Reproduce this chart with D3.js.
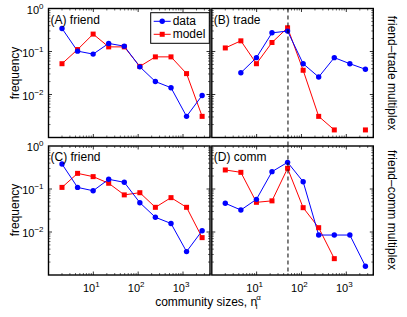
<!DOCTYPE html>
<html>
<head>
<meta charset="utf-8">
<script src="https://cdn.jsdelivr.net/npm/d3@7"></script>
<style>
body { margin: 0; background: #fff; }
svg { display: block; font-family: "Liberation Sans", Arial, sans-serif; }
</style>
</head>
<body>
<svg id="chart" width="407" height="317"></svg>
<script>
// community size bins (x), shared by every panel
var sizes = [2, 4.45, 9.9, 22, 49, 109, 242, 540, 1200, 2670];

// (A) friend, friend-trade multiplex
var friendA_data  = [0.344, 0.102, 0.087, 0.154, 0.133, 0.044, 0.020, 0.0144, 0.0031, 0.0095];
var friendA_model = [0.052, 0.111, 0.254, 0.128, 0.128, 0.045, 0.075, 0.075, 0.0306, 0.0031];
// (B) trade
var tradeB_data  = [null, 0.032, 0.072, 0.272, 0.298, 0.052, 0.0255, 0.072, 0.052, 0.0386];
var tradeB_model = [0.121, 0.177, 0.052, 0.162, 0.356, 0.0366, 0.0031, 0.0015, null, 0.0015];
// (C) friend, friend-comm multiplex
var friendC_data  = [0.381, 0.109, 0.091, 0.168, 0.143, 0.048, 0.022, 0.0158, 0.0035, 0.0107];
var friendC_model = [0.109, 0.231, 0.194, 0.136, 0.073, 0.082, 0.0375, 0.063, 0.0375, 0.0074];
// (D) comm
var commD_data  = [0.0465, 0.0325, 0.0575, 0.253, 0.417, 0.148, 0.0085, 0.0085, 0.0085, 0.0016];
var commD_model = [0.277, 0.244, 0.049, 0.053, 0.303, 0.0368, 0.0126, 0.0024, null, null];

var xTicks = [10, 100, 1000];
var yTicks = [1, 0.1, 0.01];
var peakSize = 50;  // dashed marker

var svg = d3.select("#chart");

var panels = [
    {label: "(A) friend", data: friendA_data, model: friendA_model, x0: 48.5, y0: 8.5, yLabels: true, xLabels: false, legend: true},
    {label: "(B) trade", data: tradeB_data, model: tradeB_model, x0: 211.8, y0: 8.5, yLabels: false, xLabels: false},
    {label: "(C) friend", data: friendC_data, model: friendC_model, x0: 48.5, y0: 146, yLabels: true, xLabels: true},
    {label: "(D) comm", data: commD_data, model: commD_model, x0: 211.8, y0: 146, yLabels: false, xLabels: true}
];
var pw = 161.5, ph = 129;

function tenTo(sel, exp) {
    sel.append("tspan").text("10");
    sel.append("tspan").attr("dy", -5).attr("font-size", 8).text(exp);
}

function tick(g, x1, y1, x2, y2, w) {
    return g.append("line").attr("x1", x1).attr("y1", y1).attr("x2", x2).attr("y2", y2)
        .attr("stroke", "#000").attr("stroke-width", w);
}

panels.forEach(function (p) {
    var x = d3.scaleLog().domain([1, 4000]).range([p.x0, p.x0 + pw]);
    var y = d3.scaleLog().domain([1e-3, 1]).range([p.y0 + ph, p.y0]);
    var g = svg.append("g");
    var bot = p.y0 + ph, right = p.x0 + pw;

    // minor ticks
    x.ticks().forEach(function (t) {
        var lg = Math.log10(t);
        if (Math.abs(lg - Math.round(lg)) < 1e-9) return;
        tick(g, x(t), bot, x(t), bot - 2, 0.6);
        tick(g, x(t), p.y0, x(t), p.y0 + 2, 0.6);
    });
    y.ticks().forEach(function (t) {
        var lg = Math.log10(t);
        if (Math.abs(lg - Math.round(lg)) < 1e-9) return;
        tick(g, p.x0, y(t), p.x0 + 2, y(t), 0.6);
        tick(g, right, y(t), right - 2, y(t), 0.6);
    });

    // major ticks inward on all sides
    xTicks.forEach(function (t) {
        tick(g, x(t), bot, x(t), bot - 3.5, 0.8);
        tick(g, x(t), p.y0, x(t), p.y0 + 3.5, 0.8);
        if (p.xLabels) {
            var tx = g.append("text").attr("x", x(t) - 2).attr("y", bot + 17)
                .attr("text-anchor", "middle").attr("font-size", 11);
            tenTo(tx, String(Math.round(Math.log10(t))));
        }
    });
    yTicks.forEach(function (t) {
        if (t < 1) {
            tick(g, p.x0, y(t), p.x0 + 3.5, y(t), 0.8);
            tick(g, right, y(t), right - 3.5, y(t), 0.8);
        }
        if (p.yLabels) {
            var e = Math.round(Math.log10(t));
            var ty = g.append("text").attr("x", p.x0 - 5).attr("y", y(t) + 5)
                .attr("text-anchor", "end").attr("font-size", 11);
            tenTo(ty, e == 0 ? "0" : "\u2212" + (-e));
        }
    });

    var line = d3.line()
        .defined(function (d) { return d[1] != null; })
        .x(function (d) { return x(d[0]); })
        .y(function (d) { return y(d[1]); });

    var dataPts = sizes.map(function (s, i) { return [s, p.data[i]]; });
    var modelPts = sizes.map(function (s, i) { return [s, p.model[i]]; });

    g.append("path").datum(modelPts).attr("d", line).attr("fill", "none")
        .attr("stroke", "#ff0000").attr("stroke-width", 1);
    g.append("path").datum(dataPts).attr("d", line).attr("fill", "none")
        .attr("stroke", "#0000ff").attr("stroke-width", 1);

    g.selectAll(".sq").data(modelPts.filter(function (d) { return d[1] != null; }))
        .enter().append("rect")
        .attr("x", function (d) { return x(d[0]) - 2.5; })
        .attr("y", function (d) { return y(d[1]) - 2.5; })
        .attr("width", 5).attr("height", 5).attr("fill", "#ff0000");
    g.selectAll(".dot").data(dataPts.filter(function (d) { return d[1] != null; }))
        .enter().append("circle")
        .attr("cx", function (d) { return x(d[0]); })
        .attr("cy", function (d) { return y(d[1]); })
        .attr("r", 2.7).attr("fill", "#0000ff");

    g.append("rect").attr("x", p.x0).attr("y", p.y0).attr("width", pw).attr("height", ph)
        .attr("fill", "none").attr("stroke", "#000").attr("stroke-width", 1.4);

    g.append("text").attr("x", p.x0 + 2).attr("y", p.y0 + 15).attr("font-size", 12).text(p.label);

    if (p.legend) {
        var lx = 150.7, ly = 12.7;
        g.append("rect").attr("x", lx).attr("y", ly).attr("width", 58.6).attr("height", 30.6)
            .attr("fill", "#fff").attr("stroke", "#000").attr("stroke-width", 1);
        [["data", "#0000ff", "circle"], ["model", "#ff0000", "square"]].forEach(function (e, i) {
            var yy = ly + 8.6 + i * 13;
            tick(g, lx + 3, yy, lx + 20, yy, 1).attr("stroke", e[1]);
            if (e[2] == "circle") {
                g.append("circle").attr("cx", lx + 11.5).attr("cy", yy).attr("r", 2.7).attr("fill", e[1]);
            } else {
                g.append("rect").attr("x", lx + 9).attr("y", yy - 2.5).attr("width", 5).attr("height", 5).attr("fill", e[1]);
            }
            g.append("text").attr("x", lx + 22).attr("y", yy + 4).attr("font-size", 12).text(e[0]);
        });
    }
});

// dashed marker through the right column
var xr = d3.scaleLog().domain([1, 4000]).range([211.8, 211.8 + pw]);
svg.append("line").attr("x1", xr(peakSize)).attr("x2", xr(peakSize)).attr("y1", 8.5).attr("y2", 275)
    .attr("stroke", "#000").attr("stroke-width", 1).attr("stroke-dasharray", "4,3");

// axis titles
svg.append("text").attr("transform", "translate(19,73) rotate(-90)").attr("text-anchor", "middle")
    .attr("font-size", 12).text("frequency");
svg.append("text").attr("transform", "translate(19,210) rotate(-90)").attr("text-anchor", "middle")
    .attr("font-size", 12).text("frequency");
svg.append("text").attr("transform", "translate(388,73) rotate(90)").attr("text-anchor", "middle")
    .attr("font-size", 12).text("friend\u2013trade multiplex");
svg.append("text").attr("transform", "translate(388,210) rotate(90)").attr("text-anchor", "middle")
    .attr("font-size", 12).text("friend\u2013comm multiplex");

var xt = svg.append("text").attr("x", 208).attr("y", 306).attr("text-anchor", "middle").attr("font-size", 12);
xt.append("tspan").text("community sizes, n");
xt.append("tspan").attr("dy", -6).attr("font-size", 8).attr("dx", -1).text("\u03b1");
xt.append("tspan").attr("dy", 9).attr("dx", -5).attr("font-size", 8).text("i");
</script>
</body>
</html>
